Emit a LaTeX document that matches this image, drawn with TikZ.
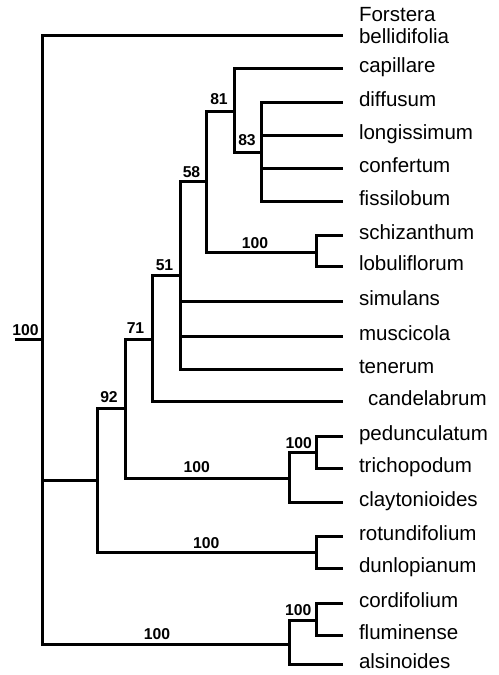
\documentclass[tikz,border=0pt]{standalone}
\usepackage{fontspec}
\setmainfont{Liberation Sans}

\begin{document}
\begin{tikzpicture}[
    x=0.75pt, y=-0.75pt,
    branch/.style={line width=2.25pt},
    leaf/.style={anchor=west, inner xsep=12pt, inner ysep=0pt, outer sep=0pt,
        text height=0.6em, text depth=0pt, font=\fontsize{15.4}{16.5}\selectfont},
    support/.style={inner sep=0pt, font=\bfseries\fontsize{11.8}{13}\selectfont},
]
\useasboundingbox (0,0) rectangle (499,675);

% =============================================================================
% Internal nodes (vertical bar x, middle y)
% =============================================================================
\coordinate (rootstub) at (15,339.5);
\coordinate (root)     at (42.5,339.5);
\coordinate (ingroup)  at (97.5,480.5);
\coordinate (n92)      at (125.5,408.5);
\coordinate (n71)      at (152.5,339.5);
\coordinate (n51)      at (180.5,275.5);
\coordinate (n58)      at (206.5,181.5);
\coordinate (n81)      at (234.5,111.5);
\coordinate (n83)      at (261.5,152.5);
\coordinate (schiz)    at (316.5,252.5);
\coordinate (pedcl)    at (289.5,478.5);
\coordinate (ped)      at (316.5,452.5);
\coordinate (rotcl)    at (316.5,552.5);
\coordinate (alscl)    at (289.5,644.5);
\coordinate (cor)      at (316.5,620.5);

% =============================================================================
% Leaves
% =============================================================================
\node[leaf, align=left, text height=1.25em] (forstera) at (343,35.5) {Forstera\\bellidifolia};
\foreach \nm/\y in {capillare/68.5, diffusum/102.5, longissimum/135.5,
    confertum/168.5, fissilobum/201.5, schizanthum/235.5, lobuliflorum/266.5,
    simulans/301.5, muscicola/336.5, tenerum/369.5, pedunculatum/436.5,
    trichopodum/468.5, claytonioides/502.5, rotundifolium/536.5,
    dunlopianum/568.5, cordifolium/603.5, fluminense/635.5, alsinoides/664.5} {
    \node[leaf] (\nm) at (343,\y) {\nm};
}
\node[leaf, inner xsep=18.75pt] (candelabrum) at (343,401.5) {candelabrum};

% =============================================================================
% Branches
% =============================================================================
\draw[branch] (rootstub) -- (root);
\foreach \p/\c in {root/forstera, root/ingroup, root/alscl,
    ingroup/n92, ingroup/rotcl, n92/n71, n92/pedcl,
    n71/n51, n71/candelabrum, n51/n58, n51/simulans, n51/muscicola, n51/tenerum,
    n58/n81, n58/schiz, n81/capillare, n81/n83,
    n83/diffusum, n83/longissimum, n83/confertum, n83/fissilobum,
    schiz/schizanthum, schiz/lobuliflorum,
    pedcl/ped, pedcl/claytonioides, ped/pedunculatum, ped/trichopodum,
    rotcl/rotundifolium, rotcl/dunlopianum,
    alscl/cor, alscl/alsinoides, cor/cordifolium, cor/fluminense} {
    \draw[branch] (\p) |- (\c);
}

% =============================================================================
% Bootstrap values
% =============================================================================
\node[support] (bsroot)  at (25.5,330.5) {100};
\node[support] (bs92)    at (109,397)    {92};
\node[support] (bs71)    at (135.5,328)  {71};
\node[support] (bs51)    at (164.5,265)  {51};
\node[support] (bs58)    at (191.5,172)  {58};
\node[support] (bs81)    at (219,99)     {81};
\node[support] (bs83)    at (247,140.5)  {83};
\node[support] (bsschiz) at (255,243)    {100};
\node[support] (bspedcl) at (196.7,466.7) {100};
\node[support] (bsped)   at (298.7,443)  {100};
\node[support] (bsrot)   at (206.3,543)  {100};
\node[support] (bsals)   at (157,634)    {100};
\node[support] (bscor)   at (298.3,609.7) {100};

\end{tikzpicture}
\end{document}
